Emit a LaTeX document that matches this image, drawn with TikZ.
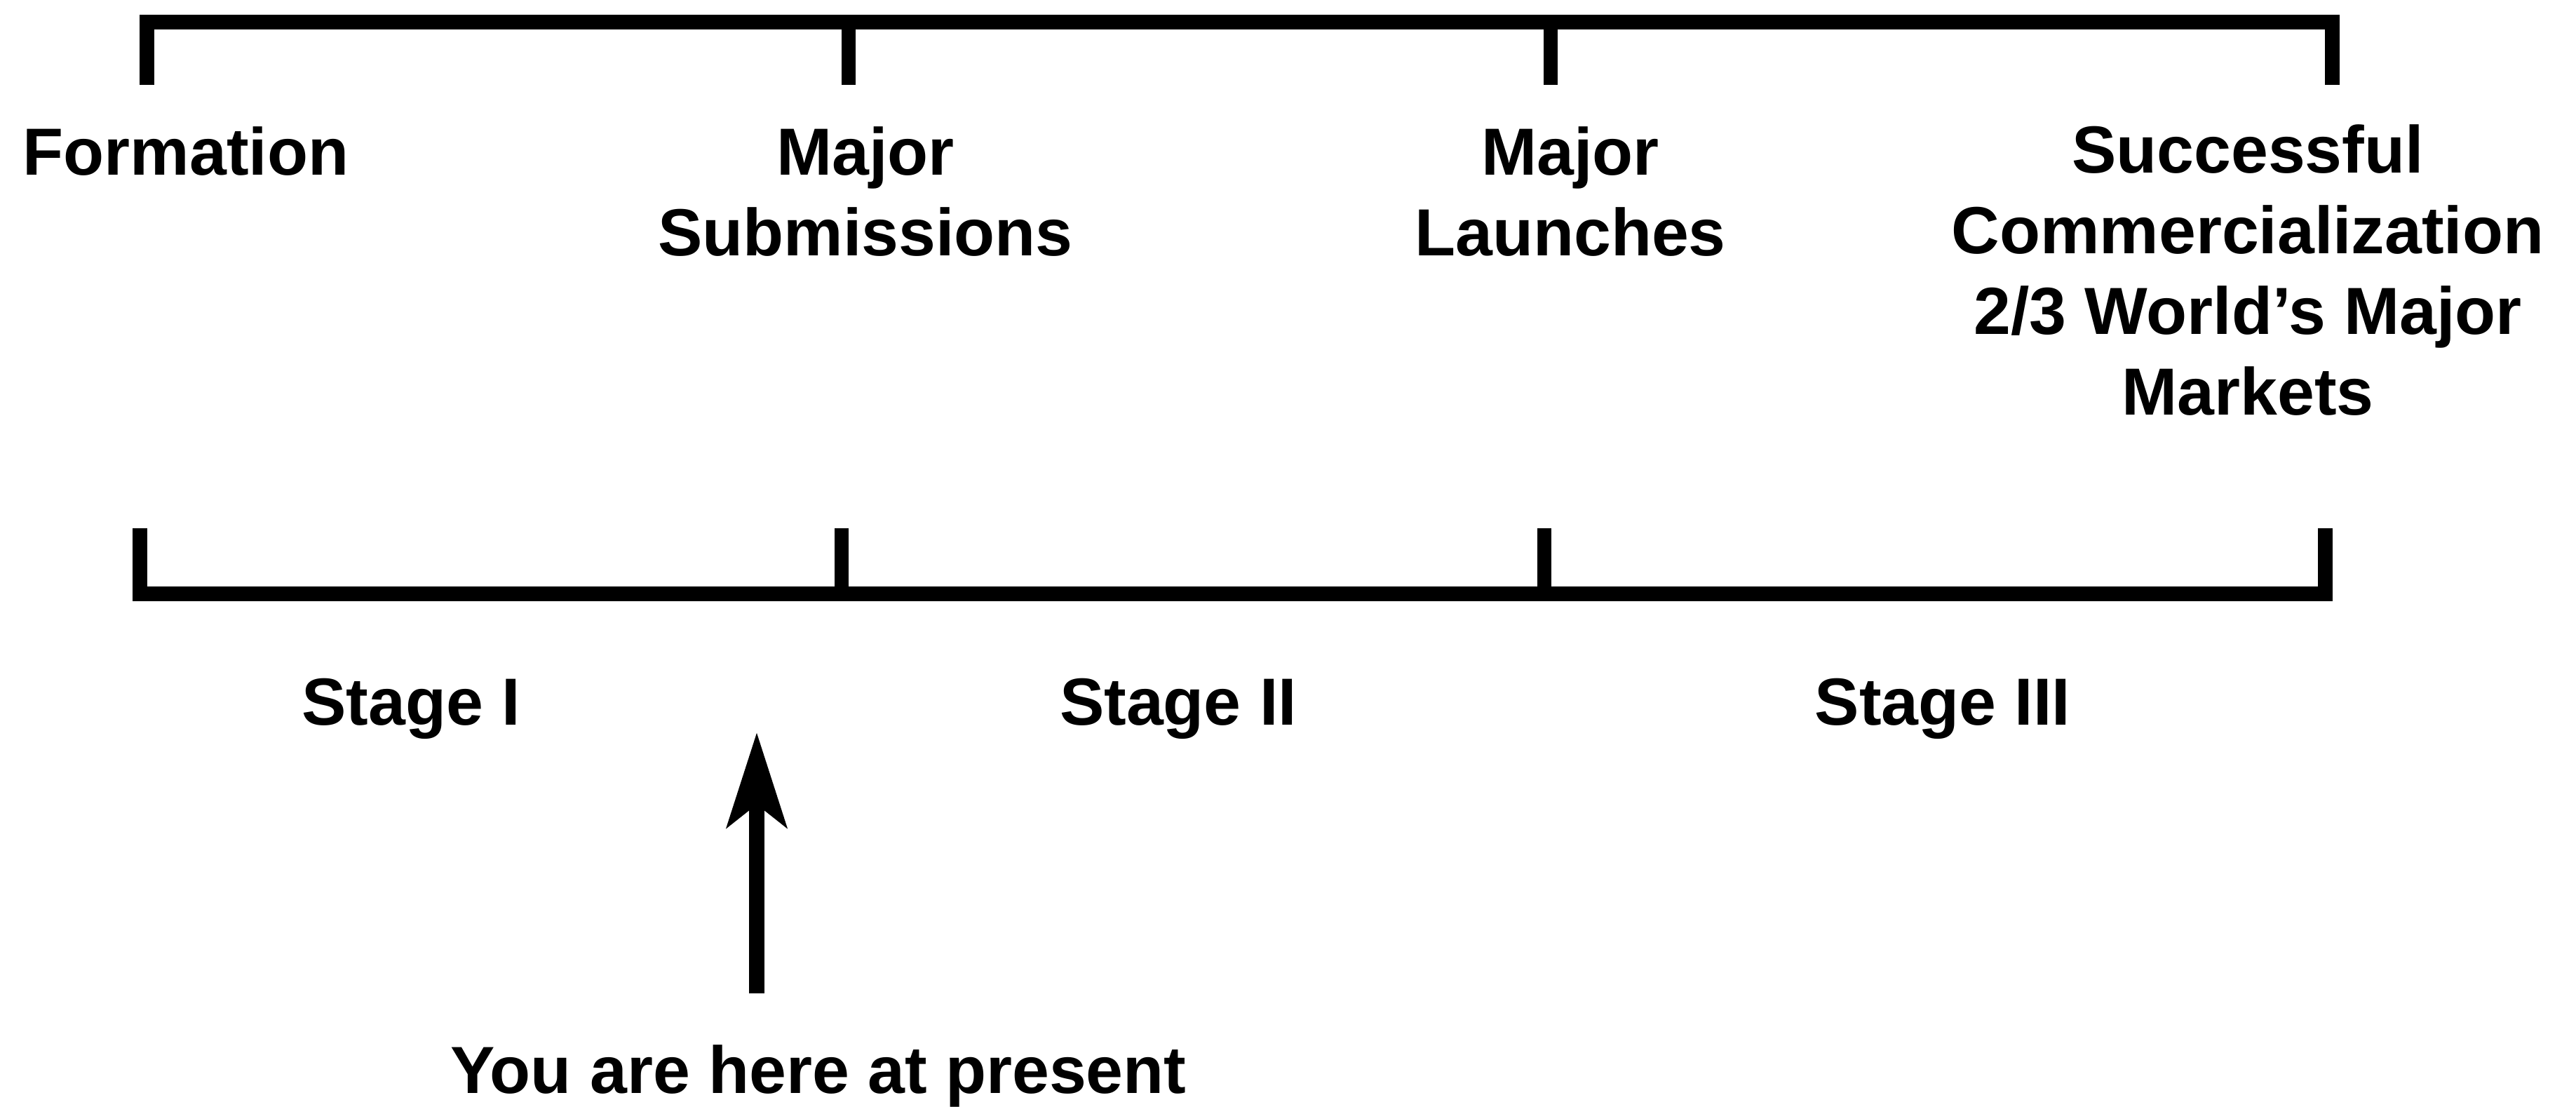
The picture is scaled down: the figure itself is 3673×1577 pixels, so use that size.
\documentclass[tikz,border=0pt]{standalone}
\usepackage{fontspec}
\setmainfont{Liberation Sans}
\usetikzlibrary{arrows.meta}
\begin{document}
\begin{tikzpicture}[x=0.2pt,y=-0.2pt,
  lbl/.style={font=\bfseries\fontsize{19}{23}\selectfont,align=center,anchor=base,inner sep=0pt},
  bar/.style={line width=4.2pt,line cap=butt,line join=miter},
  tick/.style={line width=4pt,line cap=butt},
  pointer/.style={line width=4.3pt,-{Stealth[length=27pt,width=17pt,inset=6.5pt]}}]
\useasboundingbox (0,0) rectangle (3673,1577);
% top bracket
\coordinate (t1) at (209,31); \coordinate (t2) at (1210,31);
\coordinate (t3) at (2211,31); \coordinate (t4) at (3325,31);
\draw[bar] (209,121) -- (t1) -- (t4) -- (3325,121);
\draw[tick] (t2) -- (1210,121);
\draw[tick] (t3) -- (2211,121);
% bottom bracket
\coordinate (b1) at (199,846); \coordinate (b2) at (1200,846);
\coordinate (b3) at (2202,846); \coordinate (b4) at (3315,846);
\draw[bar] (199,753) -- (b1) -- (b4) -- (3315,753);
\draw[tick] (b2) -- (1200,753);
\draw[tick] (b3) -- (2202,753);
% milestone labels (anchor = baseline of the last line)
\node[lbl] (form) at (265,249) {Formation};
\node[lbl] (subm) at (1234,364) {Major\\Submissions};
\node[lbl] (laun) at (2239,364) {Major\\Launches};
\node[lbl] (comm) at (3205,591) {Successful\\Commercialization\\2/3 World’s Major\\Markets};
% stage labels
\node[lbl] (s1) at (586,1033) {Stage I};
\node[lbl] (s2) at (1680,1033) {Stage II};
\node[lbl] (s3) at (2770,1033) {Stage III};
% pointer
\node[lbl] (here) at (1167,1558) {You are here at present};
\coordinate (ptail) at (1079,1416);
\coordinate (phead) at (1079,1044);
\draw[pointer] (ptail) -- (phead);
\end{tikzpicture}
\end{document}
